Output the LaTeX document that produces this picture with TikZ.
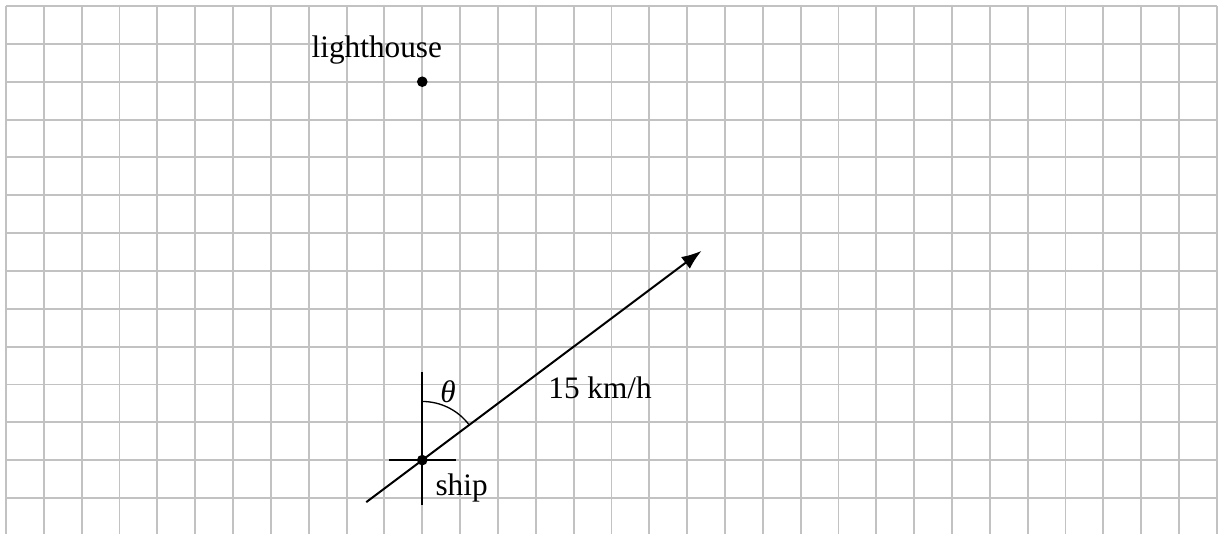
\documentclass[tikz,border=0pt]{standalone}
\usepackage{fontspec}
\setmainfont{Liberation Serif}
\usepackage{tikz}
\usetikzlibrary{arrows.meta, calc}
\definecolor{gridCol}{HTML}{C2C2C2}

\begin{document}
\begin{tikzpicture}[every node/.style={font=\fontsize{23.5}{28}\selectfont},
    dot/.style={circle, fill=black, inner sep=0pt, minimum size=8pt},
    course/.style={line width=1.5pt}]
    \useasboundingbox (-0.159,-0.951) rectangle (32.03,13.16);
    % grid paper
    \foreach \x in {0,...,32}
      \draw[gridCol, line width=1.4pt] (\x,-0.951) -- (\x,13);
    \foreach \y in {0,...,13}
      \draw[gridCol, line width=1.4pt] (0,\y) -- (32,\y);

    \node[dot] (lighthouse) at (11,11) {};
    \node (lighthouseLabel) at (9.8,11.84) {lighthouse};

    \node[dot] (ship) at (11,1) {};
    \node (shipLabel) at (12.04,0.26) {ship};
    \coordinate (west) at ($(ship)+(-0.88,0)$);
    \coordinate (east) at ($(ship)+(0.88,0)$);
    \coordinate (north) at ($(ship)+(0,2.34)$);
    \coordinate (south) at ($(ship)+(0,-1.18)$);
    \coordinate (stern) at ($(ship)+(-1.48,-1.11)$);
    \coordinate (bow) at ($(ship)+(7.38,5.53)$);
    \draw[course] (west) -- (east);
    \draw[course] (south) -- (north);
    \draw[course, -{Latex[length=15pt, width=11pt]}] (stern) -- (bow);
    \draw[line width=1pt] ($(ship)+(0,1.55)$) arc[start angle=90, end angle=36.87, radius=1.55];
    \node (theta) at (11.68,2.8) {\textit{θ}};
    \node (speed) at (15.7,2.9) {15 km/h};
  \end{tikzpicture}
\end{document}
